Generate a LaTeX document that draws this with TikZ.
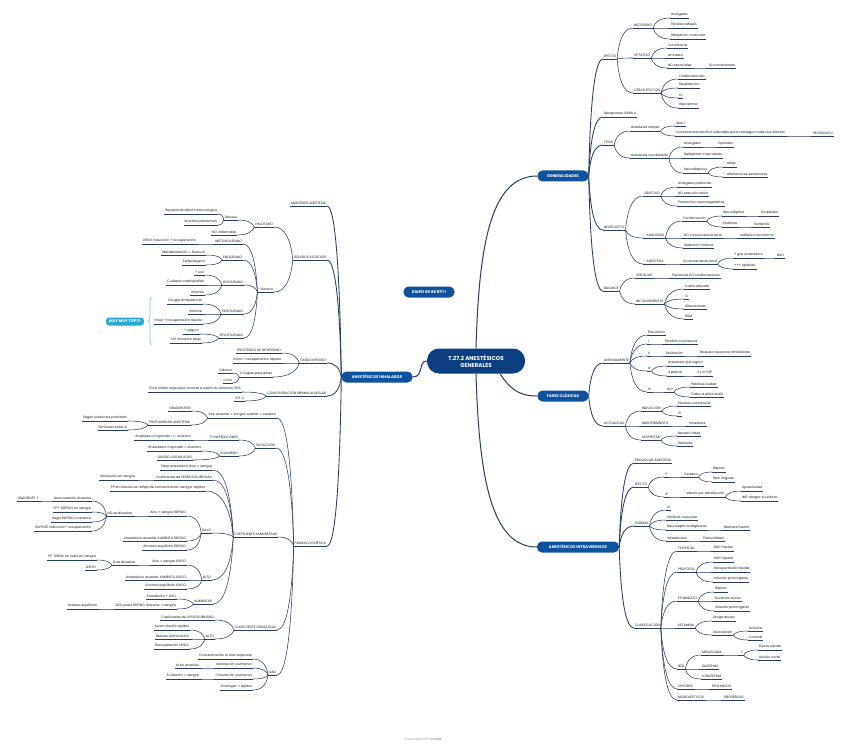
\documentclass[tikz,border=0pt]{standalone}
\usepackage{fontspec}
\newfontfamily\popf{Poppins}
\newfontfamily\dejav{DejaVu Sans}
\usetikzlibrary{calc,decorations.pathreplacing}
\definecolor{lc}{RGB}{38,62,98}
\definecolor{bfill}{RGB}{14,82,158}
\definecolor{tfill}{RGB}{10,64,128}
\definecolor{cy}{RGB}{40,168,212}
\definecolor{cyl}{RGB}{110,200,235}
\newcommand\lffont{\popf\fontsize{3.35}{4}\selectfont}
\newcommand\bxfont{\popf\bfseries\fontsize{3.9}{4.5}\selectfont}
\newcommand\ar{{\dejav →}}
\newcommand\upar{{\dejav ↑}}
\begin{document}
\begin{tikzpicture}[x=1pt,y=-1pt,
 ul/.style={draw=lc, line width=0.6pt},
 lf/.style={font=\lffont, inner xsep=0.8pt, inner ysep=1pt, anchor=south west, text=black!90,
   append after command={(\tikzlastnode.south west) edge[ul] (\tikzlastnode.south east)}},
 lfl/.style={lf, anchor=south east},
 cn/.style={draw=lc, line width=0.55pt, to path={let \p1=(\tikztostart), \p2=(\tikztotarget) in
   .. controls ({\x1+0.1*(\x2-\x1)},{\y1+0.6*(\y2-\y1)}) and ({\x1+0.4*(\x2-\x1)},{\y2}) .. (\tikztotarget)}},
 mc/.style={cn, line width=0.85pt},
 box/.style={fill=bfill, text=white, font=\bxfont, rounded corners=5pt, minimum height=11pt, inner xsep=3pt, inner ysep=0pt},
 title/.style={fill=tfill, text=white, font=\popf\bfseries\fontsize{5.6}{7.4}\selectfont, rounded corners=12pt,
   minimum width=98pt, minimum height=25pt, align=center, inner sep=1pt},
]
\useasboundingbox (0,0) rectangle (848,746);

% ---------- main nodes
\node[title] (T) at (476,361) {T.27.2 ANESTÉSICOS\\GENERALES};
\node[box, minimum width=51pt] (G) at (563,176) {GENERALIDADES};
\node[box, minimum width=51pt] (F) at (563,396) {FASES CLÁSICAS};
\node[box, minimum width=82pt] (V) at (578,547) {ANESTÉSICOS INTRAVENOSOS};
\node[box, minimum width=71pt] (I) at (377,377) {ANESTÉSICOS INHALADOS};
\node[box, minimum width=51pt] (D) at (429,292) {DIAPO 85 86 87!!!};
\node[box, fill=cy, minimum width=35pt, minimum height=8pt, rounded corners=3pt] (TOP) at (125,321.5) {MUY MUY TOP!!!};
\node[font=\popf\fontsize{3.4}{4}\selectfont, text=black!35] (P) at (423,739) {Presented with \textbf{xmind}};

% ---------- GENERALIDADES
\node[lf] (g1) at (603,59) {EFECTO};
\node[lf] (g1a) at (633,28) {NECESARIO};
\node[lf] (g1a1) at (670,18) {Analgesia};
\node[lf] (g1a2) at (670,28) {Pérdida reflejos};
\node[lf] (g1a3) at (670,39) {Relajación muscular};
\node[lf] (g1b) at (633,58) {OPTATIVO};
\node[lf] (g1b1) at (667,48) {Conciencia};
\node[lf] (g1b2) at (667,58) {Amnesia};
\node[lf] (g1b3) at (667,68) {NO esenciales};
\node[lf] (g1b3a) at (708,68) {Sí convenientes};
\node[lf] (g1c) at (633,93) {OTROS EFECTOS};
\node[lf] (g1c1) at (678,79) {Cardiovascular};
\node[lf] (g1c2) at (678,88) {Respiratorio};
\node[lf] (g1c3) at (678,98) {CI};
\node[lf] (g1c4) at (678,108) {Hipotermia};
\node[lf] (g2) at (603,117) {Recaptores GABA A};
\node[lf] (g3) at (603,145) {TIPOS};
\node[lf] (g3a) at (630,131) {Anestesia simple};
\node[lf] (g3a1) at (675,126) {Solo 1};
\node[lf] (g3a2) at (675,136) {Concentraciones MUY elevadas para conseguir todos los efectos};
\node[lf] (g3a2a) at (812,136) {PELIGROSO!!};
\node[lf] (g3b) at (630,158) {Anestesia combinada};
\node[lf] (g3b1) at (683,147) {Analgesia};
\node[lf] (g3b1a) at (717,147) {Opioides};
\node[lf] (g3b2) at (683,158) {Relajantes musculares};
\node[lf] (g3b3) at (683,173) {Neurolépticos};
\node[lf] (g3b3a) at (723,167) {- relajo};
\node[lf] (g3b3b) at (723,177) {- alteraciones sensoriales};
\node[lf] (g4) at (603,230) {NEUROLEPTO};
\node[lf] (g4a) at (643,196) {OBJETIVO};
\node[lf] (g4a1) at (677,187) {Analgesia profunda};
\node[lf] (g4a2) at (677,196) {NO reacción dolor};
\node[lf] (g4a3) at (677,206) {Protección neurovegetativa};
\node[lf] (g4b) at (643,238) {- ANALGESIA};
\node[lf] (g4b1) at (682,221) {Combinación};
\node[lf] (g4b1a) at (722,216) {Neuroléptico};
\node[lf] (g4b1a1) at (760,216) {Droperidol};
\node[lf] (g4b1b) at (722,227) {Opiáceo};
\node[lf] (g4b1b1) at (753,227) {Fentanilo};
\node[lf] (g4b2) at (683,238) {NO inconsciencia total};
\node[lf] (g4b2a) at (739,238) {Indiferencia entorno};
\node[lf] (g4b3) at (683,248) {Sedación motora};
\node[lf] (g4c) at (643,264) {- ANESTESIA};
\node[lf] (g4c1) at (682,264) {Sí inconsciente total};
\node[lf] (g4c1a) at (733,258) {+ gas anestésico};
\node[lf] (g4c1a1) at (776,258) {N2O};
\node[lf] (g4c1b) at (733,269) {+++ opiáceo};
\node[lf] (g5) at (603,291) {BALANCE};
\node[lf] (g5a) at (635,278) {VENTAJAS};
\node[lf] (g5a1) at (671,278) {Pacientes NO colaboradores};
\node[lf] (g5b) at (635,304) {INCONVENIENTES};
\node[lf] (g5b1) at (684,289) {Coste elevado};
\node[lf] (g5b2) at (684,299) {CI};
\node[lf] (g5b3) at (684,309) {Alteraciones};
\node[lf] (g5b4) at (684,319) {RAM};

% ---------- FASES CLASICAS
\node[lf] (f1) at (603,363) {ANTIGUAMENTE};
\node[lf] (f1a) at (647,335) {Éter etílico};
\node[lf] (f1b) at (647,344) {I};
\node[lf] (f1b1) at (664,344) {Pérdida conciencia};
\node[lf] (f1c) at (647,356) {II};
\node[lf] (f1c1) at (665,356) {Excitación};
\node[lf] (f1c2) at (699,356) {Bloqueo neuronas inhibidoras};
\node[lf] (f1d) at (647,371) {III};
\node[lf] (f1d1) at (667,366) {Anestesia quirúrgica};
\node[lf] (f1d2) at (667,376) {4 planos};
\node[lf] (f1d2a) at (696,376) {II y III TOP};
\node[lf] (f1e) at (647,392) {IV};
\node[lf] (f1e1) at (666,392) {NO!};
\node[lf] (f1e1a) at (690,387) {Parálisis bulbar};
\node[lf] (f1e1b) at (690,397) {Todos a altas dosis};
\node[lf] (f2) at (603,426) {ACTUALIDAD};
\node[lf] (f2a) at (641,411) {INDUCCIÓN};
\node[lf] (f2a1) at (677,406) {Pérdida conciencia};
\node[lf] (f2a2) at (677,416) {IV};
\node[lf] (f2b) at (641,426) {MANTENIMIENTO};
\node[lf] (f2b1) at (688,426) {Inhalados};
\node[lf] (f2c) at (641,440) {DESPERTAR};
\node[lf] (f2c1) at (677,436) {Revertir fases};
\node[lf] (f2c2) at (677,446) {Retirada};

% ---------- INTRAVENOSOS
\node[lf] (v1) at (634,463) {PROVOCAR ANESTESIA};
\node[lf] (v2) at (634,487) {EFECTO};
\node[lf] (v2a) at (664,477) {1º};
\node[lf] (v2a1) at (683,477) {Cerebro};
\node[lf] (v2a1a) at (712,472) {Rápido};
\node[lf] (v2a1b) at (712,482) {Bien irrigado};
\node[lf] (v2b) at (664,497) {2º};
\node[lf] (v2b1) at (683,497) {- efecto por distribución};
\node[lf] (v2b1a) at (741,491) {Liposolubles};
\node[lf] (v2b1b) at (741,501) {IMP alargar su efecto};
\node[lf] (v3) at (634,526) {FORMAS};
\node[lf] (v3a) at (666,510) {IV};
\node[lf] (v3b) at (666,520) {Parálisis muscular};
\node[lf] (v3c) at (666,530) {Neurolepto analgésicos};
\node[lf] (v3c1) at (723,530) {Mantenimiento};
\node[lf] (v3d) at (666,541) {Inhalatorios};
\node[lf] (v3d1) at (702,541) {Profundidad};
\node[lf] (v4) at (634,628) {CLASIFICACIÓN};
\node[lf] (v4a) at (677,551) {TIOPENTAL};
\node[lf] (v4a1) at (713,551) {MUY rápido};
\node[lf] (v4b) at (677,572) {PROPOFOL};
\node[lf] (v4b1) at (713,562) {MUY rápido};
\node[lf] (v4b2) at (713,572) {Recuperación rápida};
\node[lf] (v4b3) at (713,582) {Infusión prolongada};
\node[lf] (v4c) at (677,601) {ETOMIDATO};
\node[lf] (v4c1) at (714,592) {Rápido};
\node[lf] (v4c2) at (714,601) {Duración breve};
\node[lf] (v4c3) at (714,611) {Infusión prolongada};
\node[lf] (v4d) at (677,628) {KETAMINA};
\node[lf] (v4d1) at (712,621) {Droga abuso};
\node[lf] (v4d2) at (712,635) {Disociación};
\node[lf] (v4d2a) at (748,631) {Límbica};
\node[lf] (v4d2b) at (748,640) {Cortical};
\node[lf] (v4e) at (677,669) {BZD};
\node[lf] (v4e1) at (701,655) {MIDAZOLAM};
\node[lf] (v4e1a) at (740,655) {?};
\node[lf] (v4e1a1) at (758,650) {Efecto rápido};
\node[lf] (v4e1a2) at (758,660) {Acción corta};
\node[lf] (v4e2) at (701,669) {DIAZEPAM};
\node[lf] (v4e3) at (701,679) {LORAZEPAM};
\node[lf] (v4f) at (677,689) {OPIOIDES};
\node[lf] (v4f1) at (711,689) {FENTANILOS};
\node[lf] (v4g) at (677,700) {NEUROLÉPTICOS};
\node[lf] (v4g1) at (723,700) {DROPERIDOL};

% ---------- INHALADOS (left)
\node[lfl] (i1) at (327,206) {MANTENER ANESTESIA};
\node[lfl] (i2) at (327,260) {LÍQUIDOS VOLÁTILES};
\node[lfl] (i2a) at (274,227) {HALOTANO};
\node[lfl] (i2a1) at (238,220) {Desuso};
\node[lfl] (i2a1a) at (218,214) {Hepatotoxicidad inmunológica};
\node[lfl] (i2a1b) at (218,225) {Muchos problemas};
\node[lfl] (i2a2) at (237,235) {NO inflamable};
\node[lfl] (i2b) at (274,292) {- flurano};
\node[lfl] (i2b1) at (243,244) {METOXIFLURANO};
\node[lfl] (i2b1a) at (197,244) {Difícil inducción + recuperación};
\node[lfl] (i2b2) at (243,260) {ENFLURANO};
\node[lfl] (i2b2a) at (206,255) {Metabolización = fluoruro};
\node[lfl] (i2b2b) at (206,265) {Epileptógeno};
\node[lfl] (i2b3) at (244,285) {ISOFLURANO};
\node[lfl] (i2b3a) at (205,275) {+ uso};
\node[lfl] (i2b3b) at (205,285) {Cuidado cardiopatías};
\node[lfl] (i2b3c) at (205,295) {Irritante};
\node[lfl] (i2b4) at (244,314) {DESFLURANO};
\node[lfl] (i2b4a) at (203,304) {Cirugía ambulatoria};
\node[lfl] (i2b4b) at (203,314) {Irritante};
\node[lfl] (i2b4c) at (203,324) {Inicio + recuperación rápida};
\node[lfl] (i2b5) at (244,338) {SEVOFLURANO};
\node[lfl] (i2b5a) at (200,334) {+ seguro};
\node[lfl] (i2b5b) at (202,343) {NO irritación respi};
\node[lfl] (i3) at (327,363) {ÓXIDO NITROSO};
\node[lfl] (i3a) at (282,353) {PROTÓXIDO DE NITRÓGENO};
\node[lfl] (i3b) at (282,363) {Inicio + recuperación rápida};
\node[lfl] (i3c) at (273,377) {Cirugías pequeñas};
\node[lfl] (i3c1) at (233,373) {Odonto};
\node[lfl] (i3c2) at (233,383) {Cma};
\node[lfl] (i4) at (327,396) {CONCENTRACIÓN MÍNIMA ALVEOLAR};
\node[lfl] (i4a) at (242,392) {Para inhibir respuesta motora a estímulo doloroso 50\%};
\node[lfl] (i4b) at (245,401) {0,5-2};
\node[lfl] (i5) at (327,546) {FARMACOCINÉTICA};
\node[lfl] (i5a) at (277,418) {Aire alveolar = sangre arterial \ar\ cerebro};
\node[lfl] (i5a1) at (192,411) {GRADIENTES!!};
\node[lfl] (i5a2) at (191,425) {PROFUNDIDAD ANESTESIA};
\node[lfl] (i5a2a) at (128,421) {Según presiones parciales};
\node[lfl] (i5a2b) at (128,430) {Similares entre sí};
\node[lfl] (i5b) at (276,448) {EVOLUCIÓN};
\node[lfl] (i5b1) at (239,440) {1ª INSPIRACIONES};
\node[lfl] (i5b1a) at (192,440) {Anestésico inspirado >{}>{}> alveolar};
\node[lfl] (i5b2) at (239,456) {EQUILIBRIO};
\node[lfl] (i5b2a) at (202,451) {Anestésico inspirado = alveolar};
\node[lfl] (i5b2b) at (193,460) {QUIERO LLEGAR AQUÍ!};
\node[lfl] (i5c) at (278,537) {COEFICIENTE SANGRE/GAS};
\node[lfl] (i5c1) at (213,470) {Paso anestésico aire \ar\ sangre};
\node[lfl] (i5c2) at (213,480) {Coeficiente de HIDROSOLUBILIDAD};
\node[lfl] (i5c2a) at (136,480) {Disolución en sangre};
\node[lfl] (i5c3) at (206,491) {PP en alveolo es reflejo de concentración sangre-tejidos};
\node[lfl] (i5c4) at (212,533) {BAJO};
\node[lfl] (i5c4a) at (187,516) {Aire \ar\ sangre RÁPIDO};
\node[lfl] (i5c4a1) at (133,516) {NO se disuelve};
\node[lfl] (i5c4a1a) at (92,501) {Acumulación alveolos};
\node[lfl] (i5c4a1a1) at (40,501) {GRADIENTE \upar};
\node[lfl] (i5c4a1b) at (92,512) {PP\upar\ RÁPIDO en sangre};
\node[lfl] (i5c4a1c) at (92,522) {Llega RÁPIDO a cerebro};
\node[lfl] (i5c4a1d) at (92,531) {RAPIDEZ inducción- recuperación};
\node[lfl] (i5c4b) at (187,541) {Anestésico alveolar AUMENTA RÁPIDO};
\node[lfl] (i5c4c) at (187,550) {Alcanza equilibrio RÁPIDO};
\node[lfl] (i5c5) at (212,580) {ALTO};
\node[lfl] (i5c5a) at (187,565) {Aire \ar\ sangre LENTO};
\node[lfl] (i5c5a1) at (136,565) {Sí se disuelve};
\node[lfl] (i5c5a1a) at (97,560) {PP TARDA en subir en sangre};
\node[lfl] (i5c5a1b) at (97,570) {LENTO};
\node[lfl] (i5c5b) at (187,580) {Anestésico alveolar AUMENTA LENTO};
\node[lfl] (i5c5c) at (187,589) {Alcanza equilibrio LENTO};
\node[lfl] (i5c6) at (213,604) {AUMENTAR};
\node[lfl] (i5c6a) at (177,599) {Anestésico + N2O};
\node[lfl] (i5c6b) at (177,609) {N2O pasa RÁPIDO alveolos \ar\ sangre};
\node[lfl] (i5c6b1) at (98,609) {Acelera equilibrio};
\node[lfl] (i5d) at (277,630) {COEFICIENTE GRASA/GAS};
\node[lfl] (i5d1) at (215,620) {Coeficiente de LIPOSOLUBILIDAD};
\node[lfl] (i5d2) at (215,639) {ALTO};
\node[lfl] (i5d2a) at (190,630) {Acumulación tejidos};
\node[lfl] (i5d2b) at (190,639) {Retraso eliminación};
\node[lfl] (i5d2c) at (190,649) {Recuperación LENTA};
\node[lfl] (i5e) at (277,675) {AAD};
\node[lfl] (i5e1) at (253,659) {Concentración AI aire inspirado};
\node[lfl] (i5e2) at (253,668) {Ventilación pulmonar};
\node[lfl] (i5e2a) at (200,668) {AI en alveolos};
\node[lfl] (i5e3) at (253,679) {Circulación pulmonar};
\node[lfl] (i5e3a) at (200,679) {AI alveolo \ar\ sangre};
\node[lfl] (i5e4) at (253,690) {AI sangre \ar\ tejidos};

% ---------- connectors from title
\draw[lc, line width=1pt] (T.north) .. controls (479,240) and (492,176) .. (G.west);
\draw[lc, line width=1pt] (T.south) .. controls (479,480) and (492,547) .. (V.west);
\draw[lc, line width=1pt] ([xshift=24pt]T.south) .. controls (512,392) and (522,396) .. (F.west);
\draw[lc, line width=1pt] (T.west) .. controls (418,361) and (424,377) .. (I.east);

% ---------- box -> first level
\foreach \b in {g1,g2,g3,g4,g5} \draw[mc] (G.east) to (\b.south west);
\foreach \b in {f1,f2} \draw[mc] (F.east) to (\b.south west);
\foreach \b in {v1,v2,v3,v4} \draw[mc] (V.east) to (\b.south west);
\foreach \b in {i1,i2,i3,i4,i5} \draw[mc] (I.west) to (\b.south east);

% ---------- right side links
\foreach \a/\b in {g1/g1a,g1/g1b,g1/g1c,g1a/g1a1,g1a/g1a2,g1a/g1a3,g1b/g1b1,g1b/g1b2,g1b/g1b3,g1b3/g1b3a,
  g1c/g1c1,g1c/g1c2,g1c/g1c3,g1c/g1c4,g3/g3a,g3/g3b,g3a/g3a1,g3a/g3a2,g3a2/g3a2a,g3b/g3b1,g3b/g3b2,g3b/g3b3,
  g3b1/g3b1a,g3b3/g3b3a,g3b3/g3b3b,g4/g4a,g4/g4b,g4/g4c,g4a/g4a1,g4a/g4a2,g4a/g4a3,g4b/g4b1,g4b/g4b2,g4b/g4b3,
  g4b1/g4b1a,g4b1/g4b1b,g4b1a/g4b1a1,g4b1b/g4b1b1,g4b2/g4b2a,g4c/g4c1,g4c1/g4c1a,g4c1/g4c1b,g4c1a/g4c1a1,
  g5/g5a,g5/g5b,g5a/g5a1,g5b/g5b1,g5b/g5b2,g5b/g5b3,g5b/g5b4,
  f1/f1a,f1/f1b,f1/f1c,f1/f1d,f1/f1e,f1b/f1b1,f1c/f1c1,f1c1/f1c2,f1d/f1d1,f1d/f1d2,f1d2/f1d2a,f1e/f1e1,
  f1e1/f1e1a,f1e1/f1e1b,f2/f2a,f2/f2b,f2/f2c,f2a/f2a1,f2a/f2a2,f2b/f2b1,f2c/f2c1,f2c/f2c2,
  v2/v2a,v2/v2b,v2a/v2a1,v2a1/v2a1a,v2a1/v2a1b,v2b/v2b1,v2b1/v2b1a,v2b1/v2b1b,
  v3/v3a,v3/v3b,v3/v3c,v3/v3d,v3c/v3c1,v3d/v3d1,
  v4/v4a,v4/v4b,v4/v4c,v4/v4d,v4/v4e,v4/v4f,v4/v4g,v4a/v4a1,v4b/v4b1,v4b/v4b2,v4b/v4b3,
  v4c/v4c1,v4c/v4c2,v4c/v4c3,v4d/v4d1,v4d/v4d2,v4d2/v4d2a,v4d2/v4d2b,v4e/v4e1,v4e/v4e2,v4e/v4e3,
  v4e1/v4e1a,v4e1a/v4e1a1,v4e1a/v4e1a2,v4f/v4f1,v4g/v4g1}
  \draw[cn] (\a.south east) to (\b.south west);

% ---------- left side links
\foreach \a/\b in {i2/i2a,i2/i2b,i2a/i2a1,i2a/i2a2,i2a1/i2a1a,i2a1/i2a1b,
  i2b/i2b1,i2b/i2b2,i2b/i2b3,i2b/i2b4,i2b/i2b5,i2b1/i2b1a,i2b2/i2b2a,i2b2/i2b2b,
  i2b3/i2b3a,i2b3/i2b3b,i2b3/i2b3c,i2b4/i2b4a,i2b4/i2b4b,i2b4/i2b4c,i2b5/i2b5a,i2b5/i2b5b,
  i3/i3a,i3/i3b,i3/i3c,i3c/i3c1,i3c/i3c2,i4/i4a,i4/i4b,
  i5/i5a,i5/i5b,i5/i5c,i5/i5d,i5/i5e,i5a/i5a1,i5a/i5a2,i5a2/i5a2a,i5a2/i5a2b,
  i5b/i5b1,i5b/i5b2,i5b1/i5b1a,i5b2/i5b2a,i5b2/i5b2b,
  i5c/i5c1,i5c/i5c2,i5c/i5c3,i5c/i5c4,i5c/i5c5,i5c/i5c6,i5c2/i5c2a,
  i5c4/i5c4a,i5c4/i5c4b,i5c4/i5c4c,i5c4a/i5c4a1,i5c4a1/i5c4a1a,i5c4a1/i5c4a1b,i5c4a1/i5c4a1c,i5c4a1/i5c4a1d,
  i5c4a1a/i5c4a1a1,i5c5/i5c5a,i5c5/i5c5b,i5c5/i5c5c,i5c5a/i5c5a1,i5c5a1/i5c5a1a,i5c5a1/i5c5a1b,
  i5c6/i5c6a,i5c6/i5c6b,i5c6b/i5c6b1,i5d/i5d1,i5d/i5d2,i5d2/i5d2a,i5d2/i5d2b,i5d2/i5d2c,
  i5e/i5e1,i5e/i5e2,i5e/i5e3,i5e/i5e4,i5e2/i5e2a,i5e3/i5e3a}
  \draw[cn] (\a.south west) to (\b.south east);

% ---------- brace
\coordinate (bt) at (152,297);
\coordinate (bb) at (152,345);
\draw[cyl, line width=0.6pt, decorate, decoration={brace, amplitude=4pt, mirror}] (bt) -- (bb);
\end{tikzpicture}
\end{document}
